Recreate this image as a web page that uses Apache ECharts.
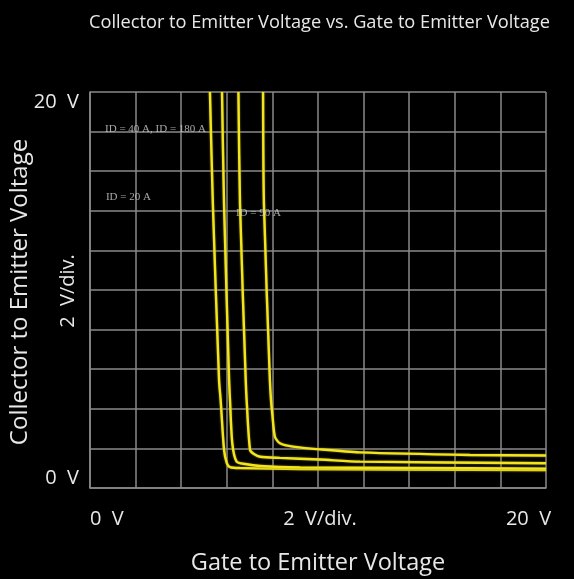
<!DOCTYPE html>
<html><head><meta charset="utf-8">
<script src="https://cdn.jsdelivr.net/npm/echarts@6/dist/echarts.min.js"></script>
<style>html,body{margin:0;padding:0;background:#000}#c{width:574px;height:579px}</style>
</head><body><div id="c"></div>
<script>
// ---- texts ----
const titleText = 'Collector to Emitter Voltage vs. Gate to Emitter Voltage';
const xAxisTitle = 'Gate to Emitter Voltage';
const yAxisTitle = 'Collector to Emitter Voltage';
const xTickValues = [0, 10, 20];
const xTickTexts = ['0  V', '2  V/div.', '20  V'];
const yTickValues = [0, 20];
const yTickTexts = ['0  V', '20  V'];
const yDivText = '2  V/div.';

// ---- series (VGE in V, VCE in V) ----
const seriesNames = ['ID = 20 A', 'ID = 40 A', 'ID = 90 A', 'ID = 180 A'];
const vge20 = [5.26, 5.39, 5.66, 5.73, 5.88, 6.00, 6.14, 6.58, 9.21, 13.6, 20];
const vce20 = [20, 14.29, 5.45, 4.44, 1.92, 1.26, 1.06, 1.01, 0.96, 0.93, 0.91];
const vge40 = [5.79, 5.88, 6.10, 6.14, 6.24, 6.43, 6.80, 7.46, 9.21, 13.6, 20];
const vce40 = [20, 14.29, 5.45, 4.44, 2.27, 1.33, 1.21, 1.11, 1.04, 1.01, 0.98];
const vge90 = [6.51, 6.58, 6.83, 6.87, 7.02, 7.19, 7.46, 8.33, 10.09, 11.84, 20];
const vce90 = [20, 14.29, 5.45, 4.44, 1.92, 1.72, 1.58, 1.52, 1.44, 1.33, 1.25];
const vge180 = [7.59, 7.63, 7.89, 7.94, 8.00, 8.11, 8.33, 8.90, 10.09, 11.84, 16.67, 20];
const vce180 = [20, 14.29, 5.45, 4.44, 3.69, 2.59, 2.26, 2.09, 1.95, 1.80, 1.67, 1.64];

// ---- annotations (text, VGE, VCE) ----
const noteTexts = ['ID = 40 A, ID = 180 A', 'ID = 20 A', 'ID = 90 A'];
const noteVge = [0.66, 0.70, 6.40];
const noteVce = [18.13, 14.70, 13.89];

const zip = (xs, ys) => xs.map((x, i) => [x, ys[i]]);
const curves = [zip(vge20, vce20), zip(vge40, vce40), zip(vge90, vce90), zip(vge180, vce180)];

const FONT = 'Open Sans';
const TXT = '#e8e8e8';
const gridColor = '#8a8a8a';
const lineColor = '#f2e41e';

const chart = echarts.init(document.getElementById('c'));
chart.setOption({
  backgroundColor: '#000',
  animation: false,
  title: {
    text: titleText, left: 84, top: 9,
    textStyle: { color: TXT, fontSize: 18.2, fontWeight: 'normal', fontFamily: FONT }
  },
  grid: { left: 90, right: 28, top: 92, bottom: 91, containLabel: false },
  xAxis: {
    type: 'value', min: 0, max: 20, interval: 2,
    axisLine: { show: true, lineStyle: { color: gridColor, width: 1.5 } },
    axisTick: { show: false },
    splitLine: { show: true, lineStyle: { color: gridColor, width: 1.5 } },
    axisLabel: {
      color: TXT, fontSize: 20, fontFamily: FONT, margin: 21,
      alignMinLabel: 'left', alignMaxLabel: 'center',
      formatter: v => {
        const i = xTickValues.indexOf(v);
        if (i < 0) return '';
        if (i === 0) return xTickTexts[i];
        if (i === 1) return '{m|' + xTickTexts[i] + '}';
        return '{r|' + xTickTexts[i] + '}';
      },
      rich: {
        m: { color: TXT, fontSize: 20, fontFamily: FONT, padding: [0, 0, 0, 4] },
        r: { color: TXT, fontSize: 20, fontFamily: FONT, padding: [0, 35, 0, 0] }
      }
    }
  },
  yAxis: {
    type: 'value', min: 0, max: 20, interval: 2,
    axisLine: { show: true, lineStyle: { color: gridColor, width: 1.5 } },
    axisTick: { show: false },
    splitLine: { show: true, lineStyle: { color: gridColor, width: 1.5 } },
    axisLabel: {
      color: TXT, fontSize: 20, fontFamily: FONT, margin: 11,
      verticalAlignMaxLabel: 'top', verticalAlignMinLabel: 'bottom',
      formatter: v => {
        const i = yTickValues.indexOf(v);
        return i < 0 ? '' : yTickTexts[i];
      }
    }
  },
  graphic: [
    { type: 'text', x: 318, y: 563,
      style: { text: xAxisTitle, fill: TXT, font: '23.5px "Open Sans"', textAlign: 'center', textVerticalAlign: 'middle' } },
    { type: 'text', x: 20, y: 292, rotation: Math.PI / 2,
      style: { text: yAxisTitle, fill: TXT, font: '24px "Open Sans"', textAlign: 'center', textVerticalAlign: 'middle' } },
    { type: 'text', x: 68, y: 291, rotation: Math.PI / 2,
      style: { text: yDivText, fill: TXT, font: '20px "Open Sans"', textAlign: 'center', textVerticalAlign: 'middle' } }
  ],
  series: curves.map((d, i) => ({
    name: seriesNames[i], type: 'line', data: d, symbol: 'none', smooth: 0.25,
    clip: true, z: 3,
    lineStyle: { color: lineColor, width: 2.4, shadowColor: 'rgba(150,140,0,0.9)', shadowBlur: 2 }
  })).concat([{
    type: 'scatter', symbolSize: 0, silent: true, z: 4,
    data: noteTexts.map((t, i) => ({ value: [noteVge[i], noteVce[i]], name: t })),
    label: {
      show: true, position: 'right', distance: 0, formatter: p => p.name,
      color: '#cfcfcf', fontSize: 11, fontFamily: 'Liberation Serif'
    }
  }])
});
</script>
</body></html>
